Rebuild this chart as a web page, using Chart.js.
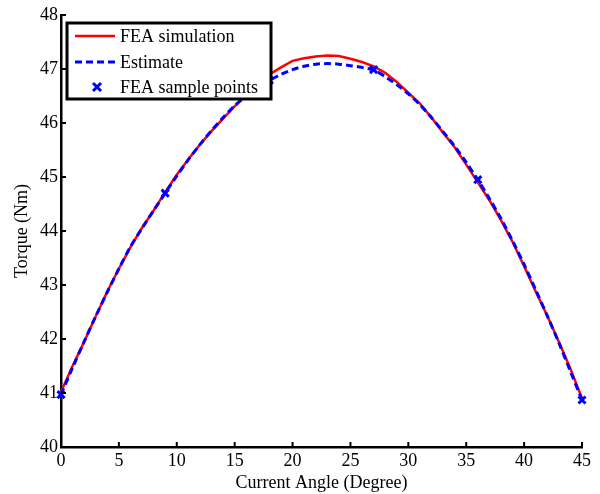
<!DOCTYPE html>
<html>
<head>
<meta charset="utf-8">
<script src="https://cdn.jsdelivr.net/npm/chart.js@4/dist/chart.umd.min.js"></script>
<style>
  html, body { margin: 0; padding: 0; background: #fff; }
  #wrap { width: 600px; height: 494px; }
</style>
</head>
<body>
<div id="wrap"><canvas id="myChart" width="600" height="494"></canvas></div>
<script>
// current angle in degrees
const angles = [];
for (let a = 0; a <= 45; a++) angles.push(a);

// FEA simulation torque (Nm)
const feaTorque = [
  41.02, 41.50, 41.95, 42.42, 42.88, 43.30, 43.70, 44.06, 44.38, 44.72,
  45.04, 45.33, 45.60, 45.85, 46.08, 46.31, 46.52, 46.72, 46.90, 47.03,
  47.15, 47.20, 47.23, 47.25, 47.24, 47.19, 47.13, 47.05, 46.93, 46.76,
  46.56, 46.36, 46.10, 45.82, 45.55, 45.23, 44.90, 44.57, 44.20, 43.80,
  43.35, 42.88, 42.43, 41.95, 41.45, 40.90
];

// estimated torque (Nm)
const estTorque = [
  40.97, 41.47, 41.95, 42.42, 42.87, 43.30, 43.71, 44.05, 44.38, 44.70,
  45.02, 45.32, 45.60, 45.86, 46.10, 46.32, 46.50, 46.66, 46.79, 46.90,
  46.99, 47.05, 47.09, 47.10, 47.09, 47.06, 47.03, 46.98, 46.86, 46.71,
  46.54, 46.34, 46.10, 45.84, 45.57, 45.27, 44.95, 44.60, 44.23, 43.82,
  43.38, 42.91, 42.43, 41.93, 41.40, 40.87
];

// FEA sample points
const sampleAngles = [0, 9, 18, 27, 36, 45];
const sampleTorque = [40.97, 44.70, 46.79, 46.99, 44.95, 40.87];

const xTicks = [0, 5, 10, 15, 20, 25, 30, 35, 40, 45];
const yTicks = [40, 41, 42, 43, 44, 45, 46, 47, 48];

const legendLabels = ["FEA simulation", "Estimate", "FEA sample points"];

const FONT = "'Liberation Serif', 'Times New Roman', serif";

// ticks pointing into the plot, like matlab
const inwardTicks = {
  id: 'inwardTicks',
  afterDraw(chart) {
    const ctx = chart.ctx;
    const area = chart.chartArea;
    const x = chart.scales.x, y = chart.scales.y;
    ctx.save();
    ctx.strokeStyle = '#000';
    ctx.lineWidth = 2;
    ctx.beginPath();
    xTicks.forEach(v => {
      const px = x.getPixelForValue(v);
      ctx.moveTo(px, area.bottom);
      ctx.lineTo(px, area.bottom - 5);
    });
    yTicks.forEach(v => {
      const py = y.getPixelForValue(v);
      ctx.moveTo(area.left, py);
      ctx.lineTo(area.left + 5, py);
    });
    ctx.stroke();
    ctx.restore();
  }
};

// legend box inside the plot (top left)
const boxLegend = {
  id: 'boxLegend',
  afterDraw(chart) {
    const ctx = chart.ctx;
    const bx = 67, by = 23, bw = 204, bh = 76;
    ctx.save();
    ctx.fillStyle = '#fff';
    ctx.fillRect(bx, by, bw, bh);
    ctx.strokeStyle = '#000';
    ctx.lineWidth = 3;
    ctx.strokeRect(bx, by, bw, bh);

    const rows = [36, 62, 87];
    ctx.font = '18px ' + FONT;
    ctx.textBaseline = 'middle';
    ctx.fillStyle = '#000';

    // red line
    ctx.strokeStyle = '#ff0000';
    ctx.lineWidth = 2.5;
    ctx.beginPath();
    ctx.moveTo(75, rows[0]); ctx.lineTo(115, rows[0]);
    ctx.stroke();

    // blue dashed
    ctx.strokeStyle = '#0000ff';
    ctx.lineWidth = 3;
    ctx.setLineDash([7, 4]);
    ctx.beginPath();
    ctx.moveTo(75, rows[1]); ctx.lineTo(115, rows[1]);
    ctx.stroke();
    ctx.setLineDash([]);

    // cross marker
    ctx.beginPath();
    ctx.moveTo(93, rows[2] - 4); ctx.lineTo(101, rows[2] + 4);
    ctx.moveTo(101, rows[2] - 4); ctx.lineTo(93, rows[2] + 4);
    ctx.stroke();

    ctx.fillStyle = '#000';
    legendLabels.forEach((t, i) => ctx.fillText(t, 120, rows[i] + 1));
    ctx.restore();
  }
};

const ctx = document.getElementById('myChart').getContext('2d');
const chart = new Chart(ctx, {
  type: 'line',
  data: {
    datasets: [
      {
        label: legendLabels[0],
        data: angles.map((a, i) => ({ x: a, y: feaTorque[i] })),
        borderColor: '#ff0000',
        borderWidth: 2.5,
        pointRadius: 0,
        tension: 0,
        clip: false,
        order: 3
      },
      {
        label: legendLabels[1],
        data: angles.map((a, i) => ({ x: a, y: estTorque[i] })),
        borderColor: '#0000ff',
        borderWidth: 3,
        borderDash: [7, 4],
        pointRadius: 0,
        tension: 0.3,
        clip: false,
        order: 2
      },
      {
        label: legendLabels[2],
        data: sampleAngles.map((a, i) => ({ x: a, y: sampleTorque[i] })),
        showLine: false,
        pointStyle: 'cross',
        rotation: 45,
        pointRadius: 5,
        borderColor: '#0000ff',
        backgroundColor: '#0000ff',
        pointBorderWidth: 3,
        clip: false,
        order: 1
      }
    ]
  },
  options: {
    responsive: false,
    animation: false,
    devicePixelRatio: 1,
    layout: { padding: { left: 0, right: 18, top: 15, bottom: 0 } },
    plugins: {
      legend: { display: false },
      tooltip: { enabled: false }
    },
    scales: {
      x: {
        type: 'linear',
        min: 0,
        max: 45,
        afterFit: s => { s.height = 47; },
        afterBuildTicks: s => { s.ticks = xTicks.map(v => ({ value: v })); },
        grid: { display: false, drawTicks: false },
        border: { display: true, color: '#000', width: 2.5 },
        ticks: { color: '#000', padding: 3, maxRotation: 0, font: { family: FONT, size: 18 } },
        title: {
          display: true,
          text: 'Current Angle (Degree)',
          color: '#000',
          padding: { top: 0, bottom: 0 },
          font: { family: FONT, size: 18 }
        }
      },
      y: {
        type: 'linear',
        min: 40,
        max: 48,
        afterFit: s => { s.width = 61; },
        afterBuildTicks: s => { s.ticks = yTicks.map(v => ({ value: v })); },
        grid: { display: false, drawTicks: false },
        border: { display: true, color: '#000', width: 2.5 },
        ticks: { color: '#000', padding: 3, font: { family: FONT, size: 18 } },
        title: {
          display: true,
          text: 'Torque (Nm)',
          color: '#000',
          padding: { top: 11, bottom: 0 },
          font: { family: FONT, size: 18 }
        }
      }
    }
  },
  plugins: [inwardTicks, boxLegend]
});
</script>
</body>
</html>
